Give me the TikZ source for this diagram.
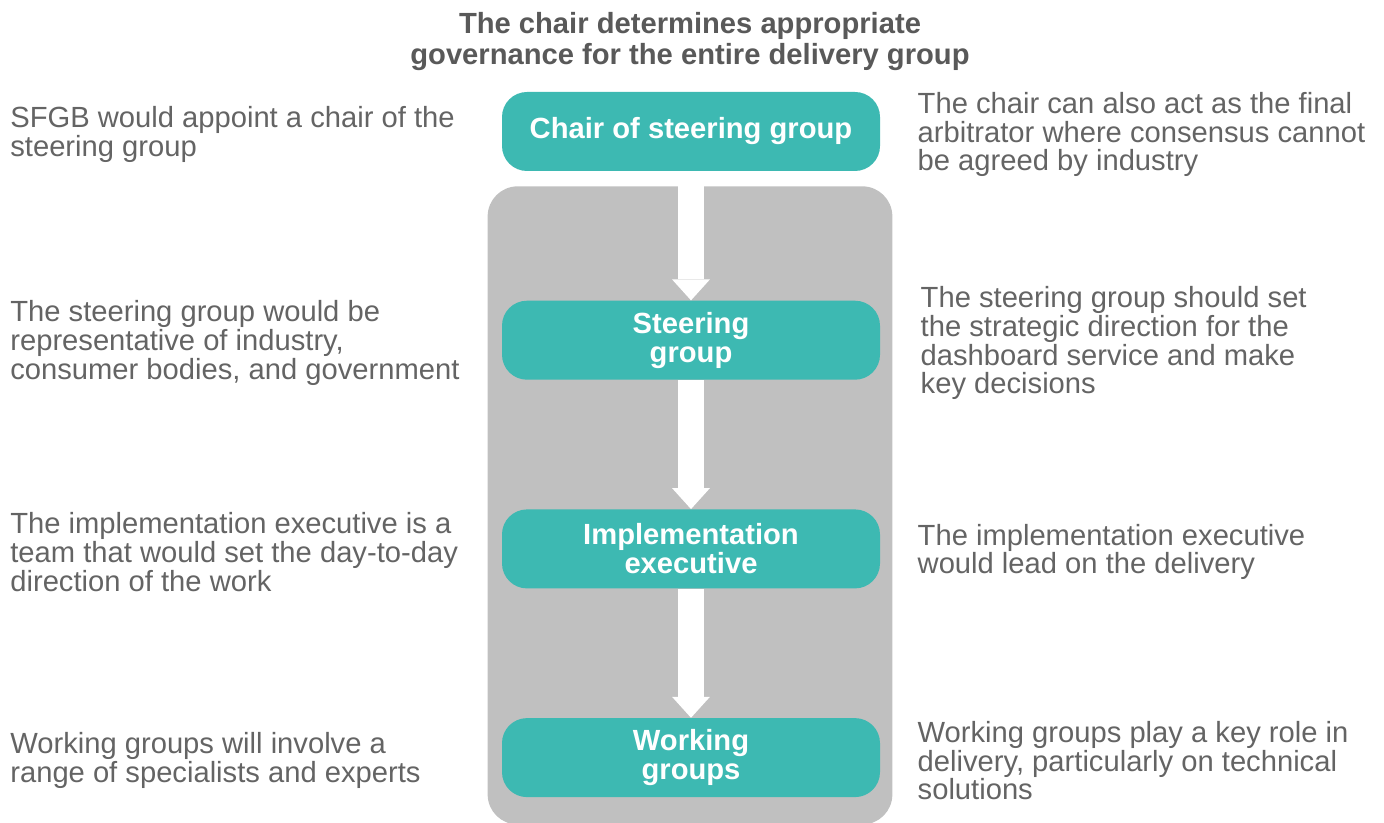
\documentclass[tikz,border=0pt]{standalone}
\usepackage{fontspec}
\setmainfont{Liberation Sans}
\usetikzlibrary{positioning}
\usetikzlibrary{arrows.meta}
\usetikzlibrary{backgrounds}
\definecolor{boxteal}{HTML}{3DB9B2}
\definecolor{panelgray}{HTML}{C0C0C0}
\definecolor{notegray}{HTML}{646464}
\definecolor{titlegray}{HTML}{595959}
\begin{document}
\begin{tikzpicture}
[box/.style={shape=rectangle,rounded corners=0.5cm,fill=boxteal,text=white,
   font=\bfseries\fontsize{16.6}{16.4}\selectfont,align=center,
   minimum width=7.56cm,minimum height=1.58cm,inner sep=0},
 note/.style={text=notegray,font=\fontsize{16.6}{16.4}\selectfont,align=left,
   inner sep=0,yshift=-0.06cm},
 flow/.style={draw=white,line width=0.52cm,
   -{Triangle[width=0.76cm,length=0.42cm,line width=0pt]}}]

\useasboundingbox (0,0) rectangle (27.68,-16.46);

\node (title) [text=titlegray,font=\bfseries\fontsize{16.6}{17.6}\selectfont,align=center]
	at (13.8,-0.83) {The chair determines appropriate\\governance for the entire delivery group};

\draw (13.82,-2.63) node (chair) [box] {Chair of steering group};
\node (steer) [box,below=2.58cm of chair] {Steering\\group};
\node (impl) [box,below=2.58cm of steer] {Implementation\\executive};
\node (work) [box,below=2.58cm of impl] {Working\\groups};

% grey panel behind the lower three
\begin{scope}[on background layer]
\fill [panelgray,rounded corners=0.6cm] ([xshift=-0.28cm,yshift=-0.3cm]chair.south west)
	rectangle ([xshift=0.24cm,yshift=-0.54cm]work.south east);
\end{scope}

\draw [flow] (chair) -- (steer);
\draw [flow] (steer) -- (impl);
\draw [flow] (impl) -- (work);

\node (chairL) [note,anchor=west] at (0.2,0 |- chair)
	{SFGB would appoint a chair of the\\steering group};
\node (steerL) [note,anchor=west] at (0.2,0 |- steer)
	{The steering group would be\\representative of industry,\\consumer bodies, and government};
\node (implL) [note,anchor=west] at (0.2,0 |- impl)
	{The implementation executive is a\\team that would set the day-to-day\\direction of the work};
\node (workL) [note,anchor=west] at (0.2,0 |- work)
	{Working groups will involve a\\range of specialists and experts};

\node (chairR) [note,right=0.74cm of chair]
	{The chair can also act as the final\\arbitrator where consensus cannot\\be agreed by industry};
\node (steerR) [note,right=0.8cm of steer]
	{The steering group should set\\the strategic direction for the\\dashboard service and make\\key decisions};
\node (implR) [note,right=0.74cm of impl]
	{The implementation executive\\would lead on the delivery};
\node (workR) [note,right=0.74cm of work]
	{Working groups play a key role in\\delivery, particularly on technical\\solutions};
\end{tikzpicture}
\end{document}
